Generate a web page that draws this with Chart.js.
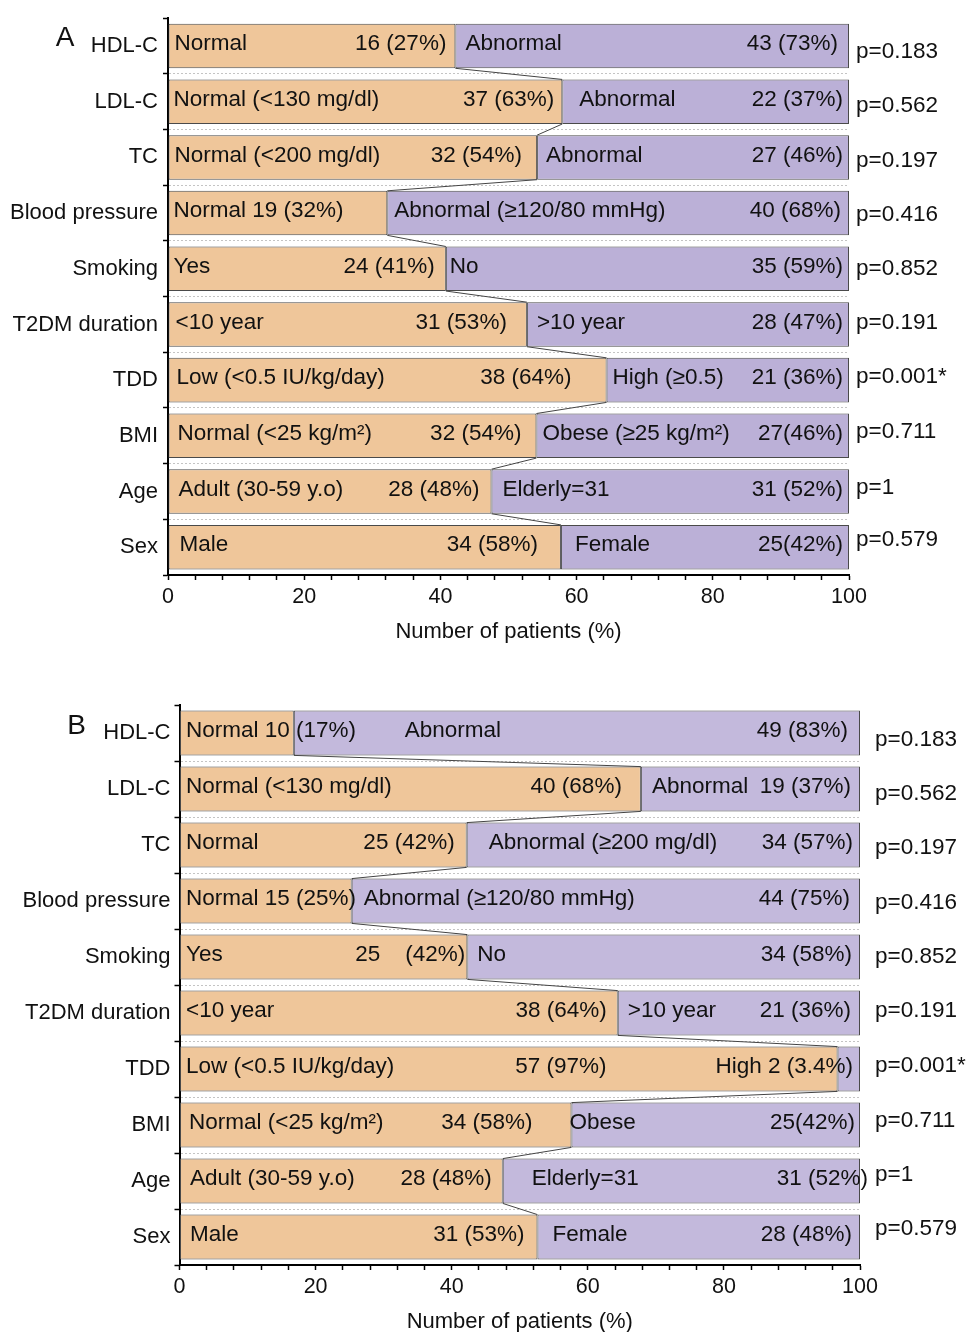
<!DOCTYPE html>
<html><head><meta charset="utf-8">
<script src="https://cdn.jsdelivr.net/npm/chart.js@4.4.1/dist/chart.umd.min.js"></script>
<style>
html,body{margin:0;padding:0;background:#fff;overflow:hidden;width:967px;height:1332px;}
.wrap{position:absolute;left:0;width:967px;}
</style></head><body>
<div class="wrap" style="top:0;height:645px"><canvas id="ca"></canvas></div>
<div class="wrap" style="top:687px;height:648px"><canvas id="cb"></canvas></div>
<script>
// ---------- data ----------
const categories = ['HDL-C','LDL-C','TC','Blood pressure','Smoking','T2DM duration','TDD','BMI','Age','Sex'];
const xTickLabels = [0,20,40,60,80,100];
const pValues = ['p=0.183','p=0.562','p=0.197','p=0.416','p=0.852','p=0.191','p=0.001*','p=0.711','p=1','p=0.579'];

// Panel A (bar lengths as drawn, %)
const normalA   = [42.2, 57.9, 54.2, 32.2, 40.8, 52.7, 64.4, 54.1, 47.5, 57.7];
const abnormalA = [57.8, 42.1, 45.8, 67.8, 59.2, 47.3, 35.6, 45.9, 52.5, 42.3];
// Panel B
const normalB   = [16.8, 67.8, 42.2, 25.3, 42.3, 64.4, 96.7, 57.6, 47.5, 52.6];
const abnormalB = [83.2, 32.2, 57.8, 74.7, 57.7, 35.6, 3.3, 42.4, 52.5, 47.4];

// Text inside bars
const normalTextA   = ['Normal','Normal (<130 mg/dl)','Normal (<200 mg/dl)','Normal 19 (32%)','Yes','<10 year','Low (<0.5 IU/kg/day)','Normal (<25 kg/m\u00b2)','Adult (30-59 y.o)','Male'];
const normalCountA  = ['16 (27%)','37 (63%)','32 (54%)','','24 (41%)','31 (53%)','38 (64%)','32 (54%)','28 (48%)','34 (58%)'];
const abnormalTextA = ['Abnormal','Abnormal','Abnormal','Abnormal (\u2265120/80 mmHg)','No','>10 year','High (\u22650.5)','Obese (\u226525 kg/m\u00b2)','Elderly=31','Female'];
const abnormalCountA= ['43 (73%)','22 (37%)','27 (46%)','40 (68%)','35 (59%)','28 (47%)','21 (36%)','27(46%)','31 (52%)','25(42%)'];

const normalTextB   = ['Normal 10 (17%)','Normal (<130 mg/dl)','Normal','Normal 15 (25%)','Yes','<10 year','Low (<0.5 IU/kg/day)','Normal (<25 kg/m\u00b2)','Adult (30-59 y.o)','Male'];
const normalCountB  = ['','40 (68%)','25 (42%)','','25    (42%)','38 (64%)','57 (97%)','34 (58%)','28 (48%)','31 (53%)'];
const abnormalTextB = ['Abnormal','Abnormal','Abnormal (\u2265200 mg/dl)','Abnormal (\u2265120/80 mmHg)','No','>10 year','','Obese','Elderly=31','Female'];
const abnormalCountB= ['49 (83%)','19 (37%)','34 (57%)','44 (75%)','34 (58%)','21 (36%)','High 2 (3.4%)','25(42%)','31 (52%)','28 (48%)'];

// ---------- label layout (px gaps from segment edges) ----------
const gapsA = [[6,9,10,11],[5,8,17,6],[6,15,9,6],[5,0,7,8],[5,11,4,6],[7,20,10,6],[8,35,6,6],[9,15,6,6],[10,12,11,6],[11,23,14,6]];
const gapsB = [[6,0,111,12],[6,19,11,9],[6,12,22,7],[6,0,12,10],[6,2,10,8],[6,11,10,9],[6,231,0,7],[9,39,-2,5],[10,11,29,-8],[10,13,15,8]];
const pNudgeA = [6,4,3,1.5,0.5,-2,-3,-4,-4,-7];
const pNudgeB = [7,5,3,2,0,-2,-3,-4,-6,-8];

const FONT = '"Liberation Sans", Arial, sans-serif';

const segPlugin = {
  id: 'segLabels',
  afterDatasetsDraw(chart, args, o) {
    const ctx = chart.ctx;
    const m0 = chart.getDatasetMeta(0), m1 = chart.getDatasetMeta(1);
    const area = chart.chartArea;
    ctx.save();
    ctx.strokeStyle = '#444';
    ctx.lineWidth = 1;
    for (let i = 0; i < m0.data.length - 1; i++) {
      const a = m0.data[i], b = m0.data[i + 1];
      ctx.beginPath();
      ctx.moveTo(a.x, a.y + a.height / 2);
      ctx.lineTo(b.x, b.y - b.height / 2);
      ctx.stroke();
    }
    ctx.fillStyle = '#111';
    ctx.font = '22.5px ' + FONT;
    ctx.textBaseline = 'middle';
    m0.data.forEach((el, i) => {
      const el1 = m1.data[i];
      const y = el.y - 2;
      const g = o.gaps[i];
      if (o.oL[i]) { ctx.textAlign = 'left';  ctx.fillText(o.oL[i], el.base + g[0], y); }
      if (o.oR[i]) { ctx.textAlign = 'right'; ctx.fillText(o.oR[i], el.x - g[1], y); }
      if (o.lL[i]) { ctx.textAlign = 'left';  ctx.fillText(o.lL[i], el1.base + g[2], y); }
      if (o.lR[i]) { ctx.textAlign = 'right'; ctx.fillText(o.lR[i], el1.x - g[3], y); }
      ctx.textAlign = 'left';
      ctx.fillText(o.p[i], area.right + o.pGap, el.y + o.pNudge[i]);
    });
    ctx.font = '28px ' + FONT;
    ctx.textAlign = 'center';
    ctx.fillText(o.letter, area.left - o.letterDx, area.top + o.letterDy);
    ctx.restore();
  }
};

function makeChart(id, p) {
  return new Chart(document.getElementById(id), {
    type: 'bar',
    data: {
      labels: categories,
      datasets: [
        { data: p.normal, backgroundColor: '#EFC69A', borderColor: '#4a4a4a', borderWidth: 1, borderSkipped: false },
        { data: p.abnormal, backgroundColor: p.lav, borderColor: '#4a4a4a', borderWidth: 1, borderSkipped: false }
      ]
    },
    options: {
      indexAxis: 'y',
      responsive: true,
      maintainAspectRatio: false,
      animation: false,
      events: [],
      layout: { padding: { top: p.padTop, right: p.padRight, left: 0, bottom: 0 } },
      datasets: { bar: { categoryPercentage: 1, barPercentage: 0.8 } },
      scales: {
        x: {
          stacked: true, min: 0, max: 100,
          afterFit: s => { s.height = p.xHeight; },
          border: { color: '#000', width: 2 },
          grid: { drawOnChartArea: false, drawTicks: true, tickLength: 5, tickColor: '#000', tickWidth: 1.5 },
          ticks: {
            stepSize: 4, autoSkip: false, maxRotation: 0, padding: 4,
            color: '#111', font: { size: 21.5, family: FONT },
            callback: v => (xTickLabels.includes(v) ? String(v) : '')
          },
          title: { display: true, text: 'Number of patients (%)', color: '#111', font: { size: 22, family: FONT }, padding: { top: 0, bottom: 0 } }
        },
        y: {
          stacked: true,
          afterFit: s => { s.width = p.yWidth; },
          border: { color: '#000', width: 2, dash: [2, 2] },
          grid: {
            offset: true, drawOnChartArea: true, tickLength: 5, tickColor: '#000', tickWidth: 1.5,
            color: c => (c.index === 0 ? 'rgba(0,0,0,0)' : '#c4c4c4'), lineWidth: 1
          },
          ticks: { color: '#111', padding: p.yPad, font: { size: 22, family: FONT } }
        }
      },
      plugins: {
        legend: { display: false },
        tooltip: { enabled: false },
        segLabels: {
          gaps: p.gaps, oL: p.oL, oR: p.oR, lL: p.lL, lR: p.lR,
          p: pValues, pNudge: p.pNudge, pGap: p.pGap,
          letter: p.letter, letterDx: p.letterDx, letterDy: p.letterDy
        }
      }
    },
    plugins: [segPlugin]
  });
}

makeChart('ca', {
  normal: normalA, abnormal: abnormalA, lav: '#BBB0D7',
  oL: normalTextA, oR: normalCountA, lL: abnormalTextA, lR: abnormalCountA,
  gaps: gapsA, pNudge: pNudgeA, pGap: 7,
  padTop: 15, padRight: 118, xHeight: 70, yWidth: 168, yPad: 5,
  letter: 'A', letterDx: 103, letterDy: 20
});
makeChart('cb', {
  normal: normalB, abnormal: abnormalB, lav: '#C3B9DC',
  oL: normalTextB, oR: normalCountB, lL: abnormalTextB, lR: abnormalCountB,
  gaps: gapsB, pNudge: pNudgeB, pGap: 15,
  padTop: 18, padRight: 107, xHeight: 70, yWidth: 179.5, yPad: 4,
  letter: 'B', letterDx: 103, letterDy: 21
});
</script>
</body></html>
